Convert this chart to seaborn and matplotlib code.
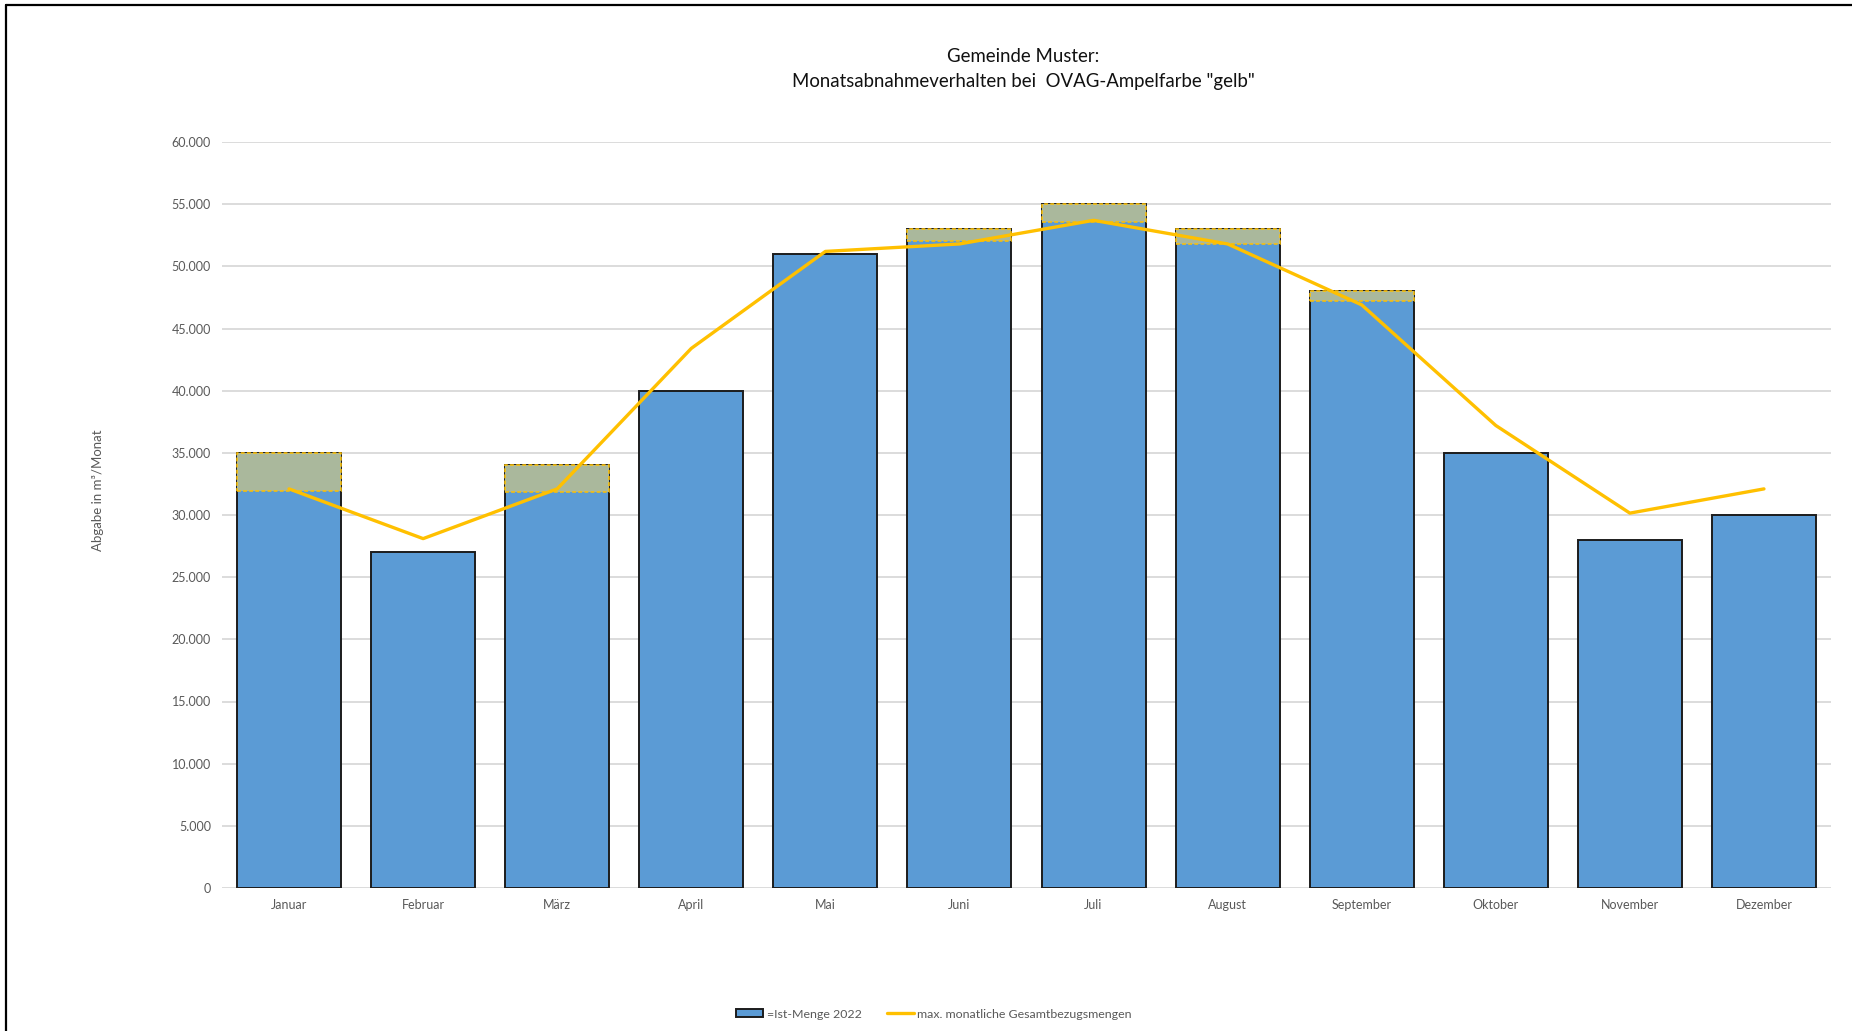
import numpy as np
import matplotlib
matplotlib.use("Agg")
import matplotlib.pyplot as plt
from matplotlib.lines import Line2D
from matplotlib.ticker import FuncFormatter, MultipleLocator
import seaborn as sns

# ---- data -------------------------------------------------------------
monate = ["Januar", "Februar", "März", "April", "Mai", "Juni",
          "Juli", "August", "September", "Oktober", "November", "Dezember"]
ist_menge = [35000, 27000, 34000, 40000, 51000, 53000,
             55000, 53000, 48000, 35000, 28000, 30000]
ueberschreitung = [3100, 0, 2150, 0, 0, 1000,
                   1450, 1200, 750, 0, 0, 0]
max_bezug = [32100, 28100, 32100, 43400, 51200, 51800,
             53700, 51800, 46900, 37200, 30150, 32100]

titel = 'Gemeinde Muster:\nMonatsabnahmeverhalten bei  OVAG-Ampelfarbe "gelb"'
y_label = "Abgabe in m³/Monat"
label_bar = "=Ist-Menge 2022"
label_line = "max. monatliche Gesamtbezugsmengen"

# ---- style ------------------------------------------------------------
sns.set_theme(style="white")
plt.rcParams["font.family"] = ["Lato", "DejaVu Sans"]

W, H = 1852, 1031
fig = plt.figure(figsize=(W / 100, H / 100), dpi=100)
ax = fig.add_axes([222 / W, 1 - 888 / H, (1831 - 222) / W, (888 - 142) / H])

blue = "#5B9BD5"
edge = "#1C1C1C"
gold = "#FFC000"
over_fill = "#AAB89C"
grey_txt = "#595959"

bw = 0.776
sns.barplot(x=monate, y=ist_menge, color=blue, saturation=1, width=bw,
            edgecolor=edge, linewidth=1.4, label=label_bar, ax=ax, zorder=2)

ist = np.array(ist_menge)
ueb = np.array(ueberschreitung)
pos = np.arange(len(monate))
mask = ueb > 0
ax.bar(pos[mask], ueb[mask], bottom=(ist - ueb)[mask], width=bw,
       color=over_fill, edgecolor=gold, linestyle=(0, (2.5, 1.5)), linewidth=1.1,
       zorder=3, label="_nolegend_")

sns.lineplot(x=pos, y=max_bezug, color=gold, linewidth=2.4, sort=False,
             label=label_line, ax=ax, zorder=4)

# ---- axes -------------------------------------------------------------
ax.set_xlim(-0.5, len(monate) - 0.5)
ax.set_ylim(0, 60000)
ax.yaxis.set_major_locator(MultipleLocator(5000))
ax.yaxis.set_major_formatter(FuncFormatter(lambda v, p: f"{int(v):,}".replace(",", ".")))
ax.grid(axis="y", color="#D9D9D9", linewidth=1.3)
ax.set_axisbelow(True)
for s in ax.spines.values():
    s.set_visible(False)
ax.tick_params(axis="both", length=0, labelsize=9, colors=grey_txt)
ax.tick_params(axis="y", pad=8)
ax.tick_params(axis="x", pad=8)
ax.set_xlabel("")
ax.set_ylabel(y_label, fontsize=9.5, color=grey_txt)
ax.yaxis.set_label_coords((104 - 222) / (1831 - 222), (888 - 490) / (888 - 142))

# ---- title ------------------------------------------------------------
fig.text(1023 / W, 1 - 48.5 / H, titel, ha="center", va="top", fontsize=13.4,
         color="#111111", linespacing=1.55)

# ---- legend -----------------------------------------------------------
handles, labels = ax.get_legend_handles_labels()
order = [labels.index(label_bar), labels.index(label_line)]
ax.legend([handles[i] for i in order], [labels[i] for i in order],
          loc="center", bbox_to_anchor=(934 / W, 1 - 1014 / H),
          bbox_transform=fig.transFigure, ncol=2, frameon=False,
          fontsize=8.9, labelcolor=grey_txt, handlelength=2.2,
          handleheight=0.6, handletextpad=0.3, columnspacing=2.0)

# ---- outer frame ------------------------------------------------------
fig.add_artist(Line2D([6 / W, 1], [1 - 5 / H, 1 - 5 / H], transform=fig.transFigure,
                      color="black", linewidth=1.6))
fig.add_artist(Line2D([6 / W, 6 / W], [0, 1 - 5 / H], transform=fig.transFigure,
                      color="black", linewidth=1.6))

fig.savefig("out.png", dpi=100)
